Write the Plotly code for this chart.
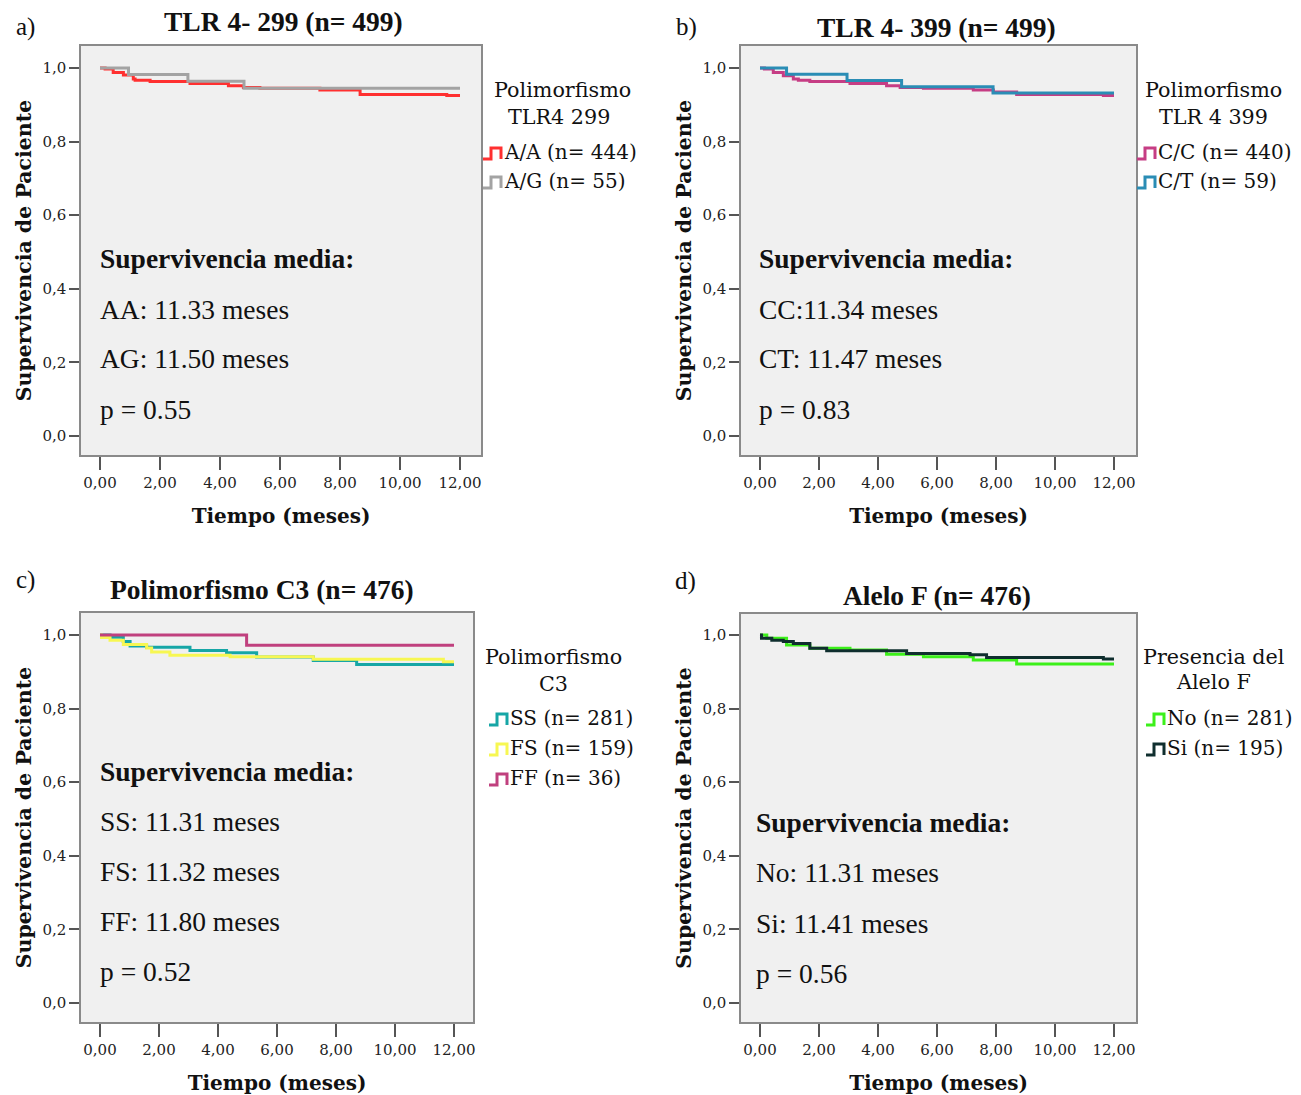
import plotly.graph_objects as go

W, H = 1301, 1095

# ---------------- data ----------------
# Panel a: TLR 4-299
t_aa = [0, 0.17, 0.44, 0.78, 1.11, 1.17, 1.67, 3.0, 4.28, 4.78, 5.33, 7.33, 8.67, 11.56, 12.0]
s_aa = [1.0, 0.997, 0.988, 0.981, 0.970, 0.967, 0.963, 0.958, 0.952, 0.947, 0.945, 0.940, 0.928, 0.925, 0.925]
t_ag = [0, 0.95, 2.93, 4.8, 12.0]
s_ag = [1.0, 0.982, 0.964, 0.945, 0.945]
# Panel b: TLR 4-399
t_cc = [0, 0.15, 0.45, 0.79, 1.13, 1.3, 1.69, 3.05, 4.29, 4.75, 5.54, 7.23, 7.91, 8.7, 11.64, 12.0]
s_cc = [1.0, 0.997, 0.988, 0.979, 0.970, 0.967, 0.963, 0.958, 0.952, 0.947, 0.945, 0.940, 0.935, 0.928, 0.925, 0.925]
t_ct = [0, 0.9, 2.95, 4.8, 7.9, 12.0]
s_ct = [1.0, 0.983, 0.966, 0.949, 0.932, 0.932]
# Panel c: Polimorfismo C3
t_ss = [0, 0.34, 0.79, 1.02, 1.58, 3.05, 4.29, 5.31, 7.23, 8.7, 12.0]
s_ss = [1.0, 0.994, 0.982, 0.970, 0.967, 0.958, 0.952, 0.940, 0.931, 0.920, 0.920]
t_fs = [0, 0.05, 0.34, 0.79, 1.58, 1.75, 2.37, 4.41, 7.23, 11.64, 12.0]
s_fs = [1.0, 0.993, 0.986, 0.974, 0.965, 0.954, 0.945, 0.941, 0.934, 0.927, 0.927]
t_ff = [0, 4.97, 12.0]
s_ff = [1.0, 0.972, 0.972]
# Panel d: Alelo F
t_no = [0, 0.23, 0.9, 1.69, 3.05, 4.29, 5.54, 7.23, 8.7, 12.0]
s_no = [1.0, 0.991, 0.973, 0.964, 0.959, 0.948, 0.941, 0.932, 0.921, 0.921]
t_si = [0, 0.05, 0.4, 0.79, 1.13, 1.69, 2.26, 4.97, 7.12, 7.68, 11.64, 12.0]
s_si = [1.0, 0.991, 0.986, 0.982, 0.977, 0.964, 0.957, 0.950, 0.946, 0.939, 0.935, 0.935]

x_tickvals = [0, 2, 4, 6, 8, 10, 12]
x_ticktext = ["0,00", "2,00", "4,00", "6,00", "8,00", "10,00", "12,00"]
y_tickvals = [0, 0.2, 0.4, 0.6, 0.8, 1.0]
y_ticktext = ["0,0", "0,2", "0,4", "0,6", "0,8", "1,0"]

panel_titles = ["TLR 4- 299 (n= 499)", "TLR 4- 399 (n= 499)", "Polimorfismo C3 (n= 476)", "Alelo F (n= 476)"]
panel_letters = ["a)", "b)", "c)", "d)"]
legend_titles = [["Polimorfismo", "TLR4 299"], ["Polimorfismo", "TLR 4 399"],
                 ["Polimorfismo", "C3"], ["Presencia del", "Alelo F"]]
series = [
    [("A/A (n= 444)", t_aa, s_aa, "#ff3030"), ("A/G (n= 55)", t_ag, s_ag, "#a3a3a3")],
    [("C/C (n= 440)", t_cc, s_cc, "#c63d84"), ("C/T (n= 59)", t_ct, s_ct, "#2a8db5")],
    [("SS (n= 281)", t_ss, s_ss, "#16a6a6"), ("FS (n= 159)", t_fs, s_fs, "#f7f752"),
     ("FF (n= 36)", t_ff, s_ff, "#c0407e")],
    [("No (n= 281)", t_no, s_no, "#3cf01a"), ("Si (n= 195)", t_si, s_si, "#0f2e2e")],
]
stats_text = [
    ["AA: 11.33 meses", "AG: 11.50 meses", "p = 0.55"],
    ["CC:11.34 meses", "CT: 11.47 meses", "p = 0.83"],
    ["SS: 11.31 meses", "FS: 11.32 meses", "FF: 11.80 meses", "p = 0.52"],
    ["No: 11.31 meses", "Si: 11.41 meses", "p = 0.56"],
]

# ---------------- layout geometry (pixels) ----------------
frames = [  # left, right, top, bottom, px of x=0, px of x=12, px of y=1, px of y=0
    (81, 481, 46, 455, 100, 460, 68, 436),
    (741, 1136, 46, 455, 760, 1114, 68, 436),
    (81, 473, 613, 1022, 100, 454, 635, 1003),
    (741, 1136, 614, 1022, 760, 1114, 635, 1003),
]
title_pos = [(283, 22), (936, 27), (262, 589), (937, 596)]
letter_pos = [(25, 27), (687, 27), (25, 580), (686, 581)]
legend_title_pos = [[(562, 90), (559, 117)], [(1213, 90), (1213, 117)],
                    [(553, 657), (553, 684)], [(1213, 657), (1213, 682)]]
legend_items = [(483, [152, 181]), (1137, [152, 181]), (489, [718, 748, 778]), (1146, [718, 748])]
stats_pos = [(100, 259), (759, 259), (100, 771), (756, 823)]

def fx(px):
    return px / W

def fy(py):
    return 1 - py / H

FONT = "Liberation Serif"      # Times-like text
SFONT = "DejaVu Serif"         # SPSS (Palatino-like) text
fig = go.Figure()
annotations = []
shapes = []

for i in range(4):
    L, R, T, B, x0p, x12p, y1p, y0p = frames[i]
    sx = (x12p - x0p) / 12.0
    sy = (y0p - y1p) / 1.0
    xr = [-(x0p - L) / sx, 12 + (R - x12p) / sx]
    yr = [-(B - y0p) / sy, 1 + (y1p - T) / sy]
    suf = "" if i == 0 else str(i + 1)
    for name, t, s, col in series[i]:
        fig.add_trace(go.Scatter(x=t, y=s, mode="lines", line=dict(color=col, width=3, shape="hv"),
                                 name=name, showlegend=False, xaxis="x" + suf, yaxis="y" + suf,
                                 hoverinfo="skip"))
    common = dict(showgrid=False, zeroline=False, showline=True, mirror=True, linecolor="#8a8a8a",
                  linewidth=1.5, ticks="outside", tickcolor="#555555", tickwidth=1.5,
                  tickfont=dict(family=SFONT, size=15, color="#222222"), automargin=False)
    fig.layout["xaxis" + suf] = dict(
        domain=[fx(L), fx(R)], range=xr, anchor="y" + suf, tickvals=x_tickvals, ticktext=x_ticktext,
        ticklen=13, ticklabelstandoff=0,
        title=dict(text="<b>Tiempo (meses)</b>", font=dict(family=SFONT, size=20, color="#111111"), standoff=18),
        **common)
    fig.layout["yaxis" + suf] = dict(
        domain=[fy(B), fy(T)], range=yr, anchor="x" + suf, tickvals=y_tickvals, ticktext=y_ticktext,
        ticklen=10,
        title=dict(text="<b>Supervivencia de Paciente</b>", font=dict(family=SFONT, size=20.5, color="#111111"), standoff=5),
        **common)

    # panel title and letter
    annotations.append(dict(text="<b>%s</b>" % panel_titles[i], x=fx(title_pos[i][0]), y=fy(title_pos[i][1]),
                            xref="paper", yref="paper", showarrow=False, xanchor="center", yanchor="middle",
                            font=dict(family=FONT, size=27.5, color="#111111")))
    annotations.append(dict(text=panel_letters[i], x=fx(letter_pos[i][0]), y=fy(letter_pos[i][1]),
                            xref="paper", yref="paper", showarrow=False, xanchor="center", yanchor="middle",
                            font=dict(family=FONT, size=25, color="#111111")))
    # legend title
    for txt, (px, py) in zip(legend_titles[i], legend_title_pos[i]):
        annotations.append(dict(text=txt, x=fx(px), y=fy(py), xref="paper", yref="paper", showarrow=False,
                                xanchor="center", yanchor="middle", font=dict(family=SFONT, size=20.7, color="#111111")))
    # legend items
    lx, lys = legend_items[i]
    for (name, t, s, col), ly in zip(series[i], lys):
        b = ly + 7
        tp = ly - 4
        path = "M %f,%f L %f,%f L %f,%f L %f,%f L %f,%f" % (
            fx(lx), fy(b), fx(lx + 8), fy(b), fx(lx + 8), fy(tp), fx(lx + 18), fy(tp), fx(lx + 18), fy(b))
        shapes.append(dict(type="path", path=path, xref="paper", yref="paper",
                           line=dict(color=col, width=3)))
        annotations.append(dict(text=name, x=fx(lx + 19), y=fy(ly), xref="paper", yref="paper", showarrow=False,
                                xanchor="left", yanchor="middle", font=dict(family=SFONT, size=20, color="#111111")))
    # statistics text
    sx0, sy0 = stats_pos[i]
    annotations.append(dict(text="<b>Supervivencia media:</b>", x=fx(sx0 - 2), y=fy(sy0), xref="paper", yref="paper",
                            showarrow=False, xanchor="left", yanchor="middle",
                            font=dict(family=FONT, size=27.5, color="#111111")))
    for k, txt in enumerate(stats_text[i]):
        annotations.append(dict(text=txt, x=fx(sx0 - 2), y=fy(sy0 + 50 * (k + 1)), xref="paper", yref="paper",
                                showarrow=False, xanchor="left", yanchor="middle",
                                font=dict(family=FONT, size=27.5, color="#111111")))

fig.update_layout(width=W, height=H, margin=dict(l=0, r=0, t=0, b=0), paper_bgcolor="white",
                  plot_bgcolor="#f0f0f0", annotations=annotations, shapes=shapes, showlegend=False)
fig.write_html("out.html")
